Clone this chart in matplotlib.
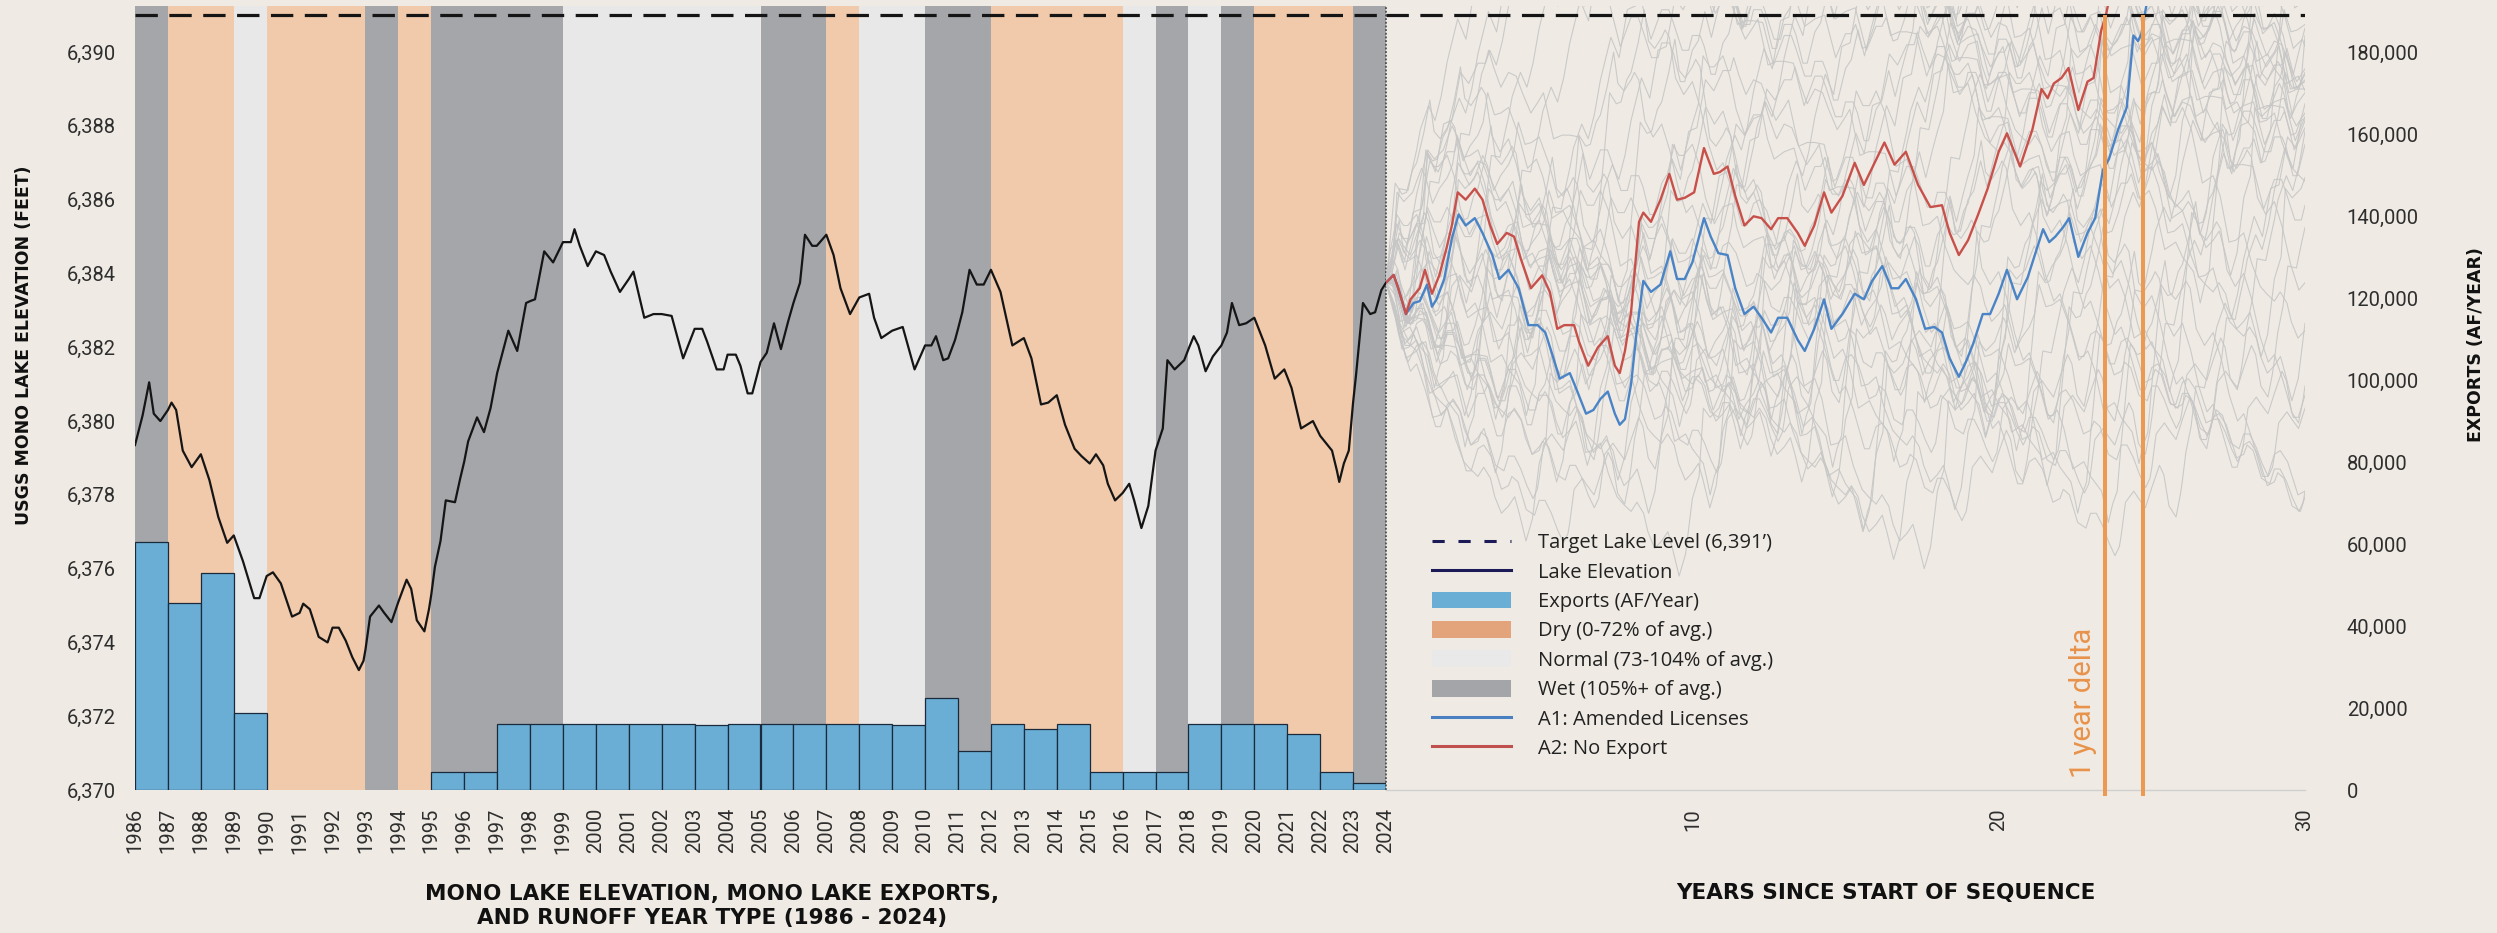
import numpy as np
import matplotlib.pyplot as plt
from matplotlib.lines import Line2D
from matplotlib.patches import Patch
from matplotlib.ticker import FuncFormatter

plt.rcParams['font.family'] = ['Roboto', 'DejaVu Sans']

# runoff year type per water year (W wet, N normal, D dry)
years = np.arange(1986, 2024)
year_type = ['W', 'D', 'D', 'N', 'D', 'D', 'D', 'W', 'D', 'W',
             'W', 'W', 'W', 'N', 'N', 'N', 'N', 'N', 'N', 'W',
             'W', 'D', 'N', 'N', 'W', 'W', 'D', 'D', 'D', 'D',
             'N', 'W', 'N', 'W', 'D', 'D', 'D', 'W']

# exports to LA (acre-feet per year)
exports_af = [60600, 45700, 52900, 18700, 0, 0, 0, 0, 0, 4500,
              4500, 16000, 16000, 16000, 16000, 16000, 16000, 15900, 16000, 16000,
              16000, 16000, 16000, 15900, 22400, 9400, 16000, 15000, 16000, 4400,
              4500, 4500, 16000, 16000, 16000, 13600, 4500, 1600]

# USGS lake elevation record (decimal year, feet)
elev_t = [1986.00, 1986.23, 1986.43, 1986.57, 1986.77, 1987.00, 1987.11, 1987.25, 1987.45, 1987.72,
          1988.00, 1988.26, 1988.53, 1988.80, 1989.00, 1989.28, 1989.62, 1989.78, 1990.00, 1990.19,
          1990.43, 1990.77, 1991.00, 1991.11, 1991.31, 1991.58, 1991.85, 1992.00, 1992.19, 1992.40,
          1992.60, 1992.80, 1992.94, 1993.00, 1993.14, 1993.41, 1993.57, 1993.79, 1994.00, 1994.25,
          1994.39, 1994.56, 1994.79, 1994.93, 1995.00, 1995.11, 1995.28, 1995.44, 1995.72, 1995.88,
          1996.00, 1996.12, 1996.39, 1996.60, 1996.80, 1997.00, 1997.34, 1997.61, 1997.88, 1998.00,
          1998.15, 1998.43, 1998.70, 1999.00, 1999.24, 1999.35, 1999.51, 1999.75, 2000.00, 2000.25,
          2000.45, 2000.73, 2001.00, 2001.14, 2001.47, 2001.75, 2002.00, 2002.30, 2002.65, 2003.00,
          2003.23, 2003.38, 2003.67, 2003.88, 2004.00, 2004.25, 2004.39, 2004.61, 2004.75, 2005.00,
          2005.19, 2005.41, 2005.62, 2005.84, 2006.00, 2006.20, 2006.35, 2006.57, 2006.71, 2007.00,
          2007.22, 2007.43, 2007.72, 2008.00, 2008.30, 2008.45, 2008.67, 2009.00, 2009.32, 2009.68,
          2010.00, 2010.19, 2010.33, 2010.55, 2010.70, 2010.91, 2011.00, 2011.13, 2011.35, 2011.57,
          2011.78, 2012.00, 2012.29, 2012.65, 2013.00, 2013.23, 2013.52, 2013.74, 2014.00, 2014.25,
          2014.54, 2014.75, 2015.00, 2015.19, 2015.41, 2015.55, 2015.77, 2016.00, 2016.20, 2016.35,
          2016.57, 2016.78, 2017.00, 2017.22, 2017.36, 2017.58, 2017.87, 2018.00, 2018.16, 2018.30,
          2018.52, 2018.74, 2019.00, 2019.17, 2019.32, 2019.54, 2019.75, 2020.00, 2020.33, 2020.62,
          2020.91, 2021.00, 2021.13, 2021.42, 2021.78, 2022.00, 2022.36, 2022.51, 2022.58, 2022.72,
          2022.87, 2023.00, 2023.09, 2023.30, 2023.52, 2023.67, 2023.86, 2024.00]
elev_ft = [6379.35, 6380.15, 6381.05, 6380.20, 6380.00, 6380.30, 6380.50, 6380.30, 6379.20, 6378.75,
           6379.10, 6378.40, 6377.40, 6376.70, 6376.90, 6376.20, 6375.20, 6375.20, 6375.80, 6375.90,
           6375.60, 6374.70, 6374.80, 6375.05, 6374.90, 6374.15, 6374.00, 6374.40, 6374.40, 6374.05,
           6373.60, 6373.25, 6373.50, 6373.80, 6374.70, 6375.00, 6374.80, 6374.55, 6375.10, 6375.70,
           6375.45, 6374.60, 6374.30, 6374.90, 6375.30, 6376.05, 6376.75, 6377.85, 6377.80, 6378.45,
           6378.90, 6379.45, 6380.10, 6379.70, 6380.35, 6381.30, 6382.45, 6381.90, 6383.20, 6383.25,
           6383.30, 6384.60, 6384.30, 6384.85, 6384.85, 6385.20, 6384.75, 6384.20, 6384.60, 6384.50,
           6384.05, 6383.50, 6383.85, 6384.05, 6382.80, 6382.90, 6382.90, 6382.85, 6381.70, 6382.50,
           6382.50, 6382.15, 6381.40, 6381.40, 6381.80, 6381.80, 6381.50, 6380.75, 6380.75, 6381.60,
           6381.85, 6382.65, 6381.95, 6382.70, 6383.20, 6383.75, 6385.05, 6384.75, 6384.75, 6385.05,
           6384.50, 6383.60, 6382.90, 6383.35, 6383.45, 6382.80, 6382.25, 6382.45, 6382.55, 6381.40,
           6382.05, 6382.05, 6382.30, 6381.65, 6381.70, 6382.20, 6382.50, 6382.95, 6384.10, 6383.70,
           6383.70, 6384.10, 6383.50, 6382.05, 6382.25, 6381.70, 6380.45, 6380.50, 6380.70, 6379.90,
           6379.25, 6379.05, 6378.85, 6379.10, 6378.80, 6378.30, 6377.85, 6378.05, 6378.30, 6377.85,
           6377.10, 6377.70, 6379.20, 6379.80, 6381.65, 6381.40, 6381.65, 6381.95, 6382.30, 6382.05,
           6381.35, 6381.75, 6382.05, 6382.40, 6383.20, 6382.60, 6382.65, 6382.80, 6382.05, 6381.15,
           6381.40, 6381.20, 6380.90, 6379.80, 6380.00, 6379.60, 6379.20, 6378.65, 6378.35, 6378.85,
           6379.20, 6380.50, 6381.25, 6383.20, 6382.90, 6382.95, 6383.55, 6383.75]

# projected runs, years since start of sequence
a1_t = [0.00, 0.25, 0.40, 0.65, 0.90, 1.10, 1.34, 1.50, 1.65, 1.90,
        2.15, 2.37, 2.60, 2.90, 3.15, 3.47, 3.70, 4.00, 4.33, 4.65,
        4.95, 5.20, 5.43, 5.67, 6.00, 6.20, 6.53, 6.77, 7.00, 7.24,
        7.47, 7.63, 7.80, 8.00, 8.18, 8.40, 8.65, 8.96, 9.28, 9.50,
        9.75, 10.00, 10.38, 10.60, 10.85, 11.15, 11.40, 11.70, 12.00, 12.26,
        12.57, 12.80, 13.10, 13.44, 13.67, 13.98, 14.30, 14.54, 14.90, 15.30,
        15.60, 15.87, 16.20, 16.50, 16.73, 16.97, 17.30, 17.60, 17.90, 18.15,
        18.40, 18.70, 18.93, 19.17, 19.48, 19.72, 20.00, 20.27, 20.60, 20.95,
        21.20, 21.45, 21.65, 21.85, 22.10, 22.30, 22.60, 22.90, 23.15, 23.40,
        23.60, 23.90, 24.18, 24.40, 24.55, 24.66, 24.85]
a1_ft = [6383.75, 6383.96, 6383.60, 6382.90, 6383.20, 6383.25, 6383.70, 6383.10, 6383.30, 6383.85,
         6384.95, 6385.60, 6385.30, 6385.50, 6385.10, 6384.50, 6383.85, 6384.10, 6383.60, 6382.60,
         6382.60, 6382.40, 6381.80, 6381.15, 6381.30, 6380.90, 6380.20, 6380.30, 6380.60, 6380.80,
         6380.20, 6379.90, 6380.05, 6381.00, 6382.40, 6383.80, 6383.50, 6383.70, 6384.60, 6383.85,
         6383.85, 6384.30, 6385.50, 6385.00, 6384.55, 6384.50, 6383.60, 6382.90, 6383.10, 6382.80,
         6382.40, 6382.80, 6382.80, 6382.20, 6381.90, 6382.50, 6383.30, 6382.50, 6382.90, 6383.45,
         6383.30, 6383.80, 6384.20, 6383.60, 6383.60, 6383.85, 6383.30, 6382.50, 6382.55, 6382.40,
         6381.70, 6381.20, 6381.60, 6382.10, 6382.90, 6382.90, 6383.45, 6384.10, 6383.30, 6383.90,
         6384.55, 6385.20, 6384.85, 6385.00, 6385.25, 6385.50, 6384.45, 6385.10, 6385.50, 6386.80,
         6387.10, 6387.90, 6388.50, 6390.45, 6390.30, 6390.50, 6391.40]

a2_t = [0.00, 0.25, 0.40, 0.65, 0.80, 1.10, 1.27, 1.50, 1.74, 1.98,
        2.15, 2.34, 2.60, 2.90, 3.15, 3.40, 3.63, 3.94, 4.18, 4.40,
        4.73, 5.10, 5.35, 5.59, 5.82, 6.14, 6.30, 6.60, 6.92, 7.24,
        7.47, 7.63, 7.80, 8.00, 8.26, 8.40, 8.65, 8.96, 9.25, 9.50,
        9.75, 10.06, 10.38, 10.70, 10.90, 11.15, 11.40, 11.70, 12.00, 12.26,
        12.57, 12.80, 13.10, 13.44, 13.67, 13.98, 14.30, 14.54, 14.90, 15.30,
        15.60, 15.95, 16.27, 16.60, 16.97, 17.37, 17.77, 18.15, 18.40, 18.70,
        19.00, 19.33, 19.64, 20.00, 20.27, 20.70, 21.10, 21.40, 21.60, 21.80,
        22.05, 22.28, 22.60, 22.90, 23.10, 23.35, 23.50, 23.60]
a2_ft = [6383.75, 6383.96, 6383.60, 6382.90, 6383.30, 6383.60, 6384.10, 6383.45, 6383.95, 6384.70,
         6385.30, 6386.20, 6386.00, 6386.30, 6386.00, 6385.30, 6384.80, 6385.10, 6385.00, 6384.40,
         6383.60, 6383.95, 6383.50, 6382.50, 6382.60, 6382.60, 6382.15, 6381.50, 6382.00, 6382.30,
         6381.50, 6381.30, 6381.90, 6382.95, 6385.40, 6385.65, 6385.40, 6386.00, 6386.70, 6386.00,
         6386.05, 6386.20, 6387.40, 6386.70, 6386.75, 6386.90, 6386.10, 6385.30, 6385.55, 6385.50,
         6385.20, 6385.50, 6385.50, 6385.10, 6384.75, 6385.30, 6386.20, 6385.65, 6386.10, 6387.00,
         6386.40, 6387.00, 6387.55, 6386.95, 6387.30, 6386.40, 6385.80, 6385.85, 6385.10, 6384.50,
         6384.90, 6385.60, 6386.30, 6387.30, 6387.80, 6386.90, 6387.90, 6389.00, 6388.75, 6389.15,
         6389.30, 6389.57, 6388.43, 6389.20, 6389.30, 6390.60, 6391.00, 6391.40]

target_ft = 6391
reach_a2, reach_a1 = 23.47, 24.72   # years when each run first touches the target

exp_ticks = np.arange(0, 180001, 20000)
elev_ticks = np.arange(6370, 6391, 2)

W, H = 2497, 933
BG = '#efebe4'
INK = '#2e2e2e'
fig = plt.figure(figsize=(W / 100, H / 100), dpi=100, facecolor=BG)

y0, y1 = 6370, 6391.25
af_per_ft = 9000
bot = (H - 790) / H
hgt = (790 - 6) / H
rect_l = [135 / W, bot, (1386 - 135) / W, hgt]
rect_r = [1386 / W, bot, (2305 - 1386) / W, hgt]

# left panel: year-type bands and exports underneath, lake level on top
ax_b = fig.add_axes(rect_l)
ax_l = fig.add_axes(rect_l, sharex=ax_b)
ax_l.patch.set_visible(False)

band = {'D': '#f1c9ab', 'N': '#e8e8e9', 'W': '#a4a6aa'}
for yr, t in zip(years, year_type):
    ax_b.axvspan(yr, yr + 1, color=band[t], lw=0, zorder=0)
ex = np.array(exports_af)
m = ex > 0
ax_b.bar(years[m], ex[m], width=1, align='edge', color='#6aaed6',
         edgecolor='#1b2a3a', linewidth=0.9, zorder=2)
ax_b.set_xlim(1986, 2024)
ax_b.set_ylim(0, (y1 - y0) * af_per_ft)
ax_b.axis('off')

DASH = dict(color='#151515', lw=2.3, dashes=(7, 3.6))
ax_l.plot(elev_t, elev_ft, color='#151515', lw=1.6, zorder=3)
ax_l.axhline(target_ft, **DASH)
ax_l.axvline(2024, color='#3a3a3a', lw=1.1, ls=(0, (1.2, 1.2)), clip_on=False)
ax_l.set_ylim(y0, y1)
ax_l.set_yticks(elev_ticks)
ax_l.yaxis.set_major_formatter(FuncFormatter(lambda v, p: f'{int(v):,}'))
ax_l.set_xticks(np.arange(1986, 2025))
ax_l.tick_params(axis='x', labelrotation=90, length=0, pad=13, labelsize=14.5, labelcolor=INK)
ax_l.tick_params(axis='y', length=0, pad=14, labelsize=14.5, labelcolor=INK)
for s in ax_l.spines.values():
    s.set_visible(False)

# right panel: simulated sequences restarted from every historical year
ax_r = fig.add_axes(rect_r)
ax_r.patch.set_visible(False)
ht = np.array(elev_t)
hz = np.array(elev_ft)
span = 2024 - 1986
ext_t = np.concatenate([ht, ht[1:] + span])
ext_z = np.concatenate([hz, hz[1:] + (hz[-1] - hz[0])])
for k in range(span):
    t0 = 1986 + k
    i0 = int(np.argmin(np.abs(ext_t - t0)))
    sel = (ext_t >= t0 - 1e-6) & (ext_t <= t0 + 30 + 1e-6)
    ax_r.plot(ext_t[sel] - t0, hz[-1] + ext_z[sel] - ext_z[i0],
              color='#c6c6c6', lw=0.8, alpha=0.9, zorder=1)

ax_r.plot(a1_t, a1_ft, color='#4a84c6', lw=1.7, zorder=3)
ax_r.plot(a2_t, a2_ft, color='#c8504b', lw=1.7, zorder=3)
ax_r.axhline(target_ft, zorder=4, **DASH)
ax_r.vlines([reach_a2, reach_a1], y0 - 0.15, target_ft, color='#ec9a52', lw=2.9, zorder=5,
            clip_on=False)
ax_r.text(22.75, 6370.33, '1 year delta', rotation=90, ha='center', va='bottom',
          fontsize=21, color='#e8924a')
ax_r.set_xlim(0, 30)
ax_r.set_ylim(y0, y1)
ax_r.set_yticks([])
ax_r.set_xticks([10, 20, 30])
ax_r.tick_params(axis='x', labelrotation=90, length=0, pad=13, labelsize=14.5, labelcolor=INK)
for side in ['top', 'left', 'right']:
    ax_r.spines[side].set_visible(False)
ax_r.spines['bottom'].set_color('#d0d0d0')
ax_r.spines['bottom'].set_linewidth(1)

# exports scale on the far right
ax_r2 = ax_r.twinx()
ax_r2.set_ylim(0, (y1 - y0) * af_per_ft)
ax_r2.set_yticks(exp_ticks)
ax_r2.yaxis.set_major_formatter(FuncFormatter(lambda v, p: f'{int(v):,}'))
ax_r2.tick_params(axis='y', length=0, pad=30, labelsize=14.5, labelcolor=INK)
for s in ax_r2.spines.values():
    s.set_visible(False)

NAVY = '#1d1b57'
handles = [
    Line2D([], [], color=NAVY, lw=2.2, dashes=(4, 4.5)),
    Line2D([], [], color=NAVY, lw=2.2),
    Patch(facecolor='#6aaed6', edgecolor='none'),
    Patch(facecolor='#e3a47c', edgecolor='none'),
    Patch(facecolor='#e9e9e9', edgecolor='none'),
    Patch(facecolor='#a4a5a9', edgecolor='none'),
    Line2D([], [], color='#4a7fc2', lw=2.2),
    Line2D([], [], color='#c0504d', lw=2.2),
]
labels = ['Target Lake Level (6,391\u2019)', 'Lake Elevation', 'Exports (AF/Year)',
          'Dry (0-72% of avg.)', 'Normal (73-104% of avg.)', 'Wet (105%+ of avg.)',
          'A1: Amended Licenses', 'A2: No Export']
fig.legend(handles, labels, loc='upper left', bbox_to_anchor=(1432 / W, 1 - 533 / H),
           frameon=False, prop={'family': 'Open Sans', 'size': 14.5},
           handlelength=3.9, handleheight=0.9, handletextpad=1.35, labelspacing=0.45,
           borderpad=0, borderaxespad=0, labelcolor='#222222')

bold = {'family': 'DejaVu Sans', 'weight': 'bold', 'color': '#111111'}
fig.text(712 / W, 1 - 906 / H, 'MONO LAKE ELEVATION, MONO LAKE EXPORTS,\nAND RUNOFF YEAR TYPE (1986 - 2024)',
         ha='center', va='center', fontsize=15.5, linespacing=1.2, fontdict=bold)
fig.text(1886 / W, 1 - 893 / H, 'YEARS SINCE START OF SEQUENCE',
         ha='center', va='center', fontsize=15.5, fontdict=bold)
fig.text(24 / W, 1 - 345 / H, 'USGS MONO LAKE ELEVATION (FEET)', rotation=90,
         ha='center', va='center', fontsize=12.5, fontdict=bold)
fig.text(2476 / W, 1 - 345 / H, 'EXPORTS (AF/YEAR)', rotation=90,
         ha='center', va='center', fontsize=12.5, fontdict=bold)

fig.savefig('out.png', dpi=100, facecolor=BG)
